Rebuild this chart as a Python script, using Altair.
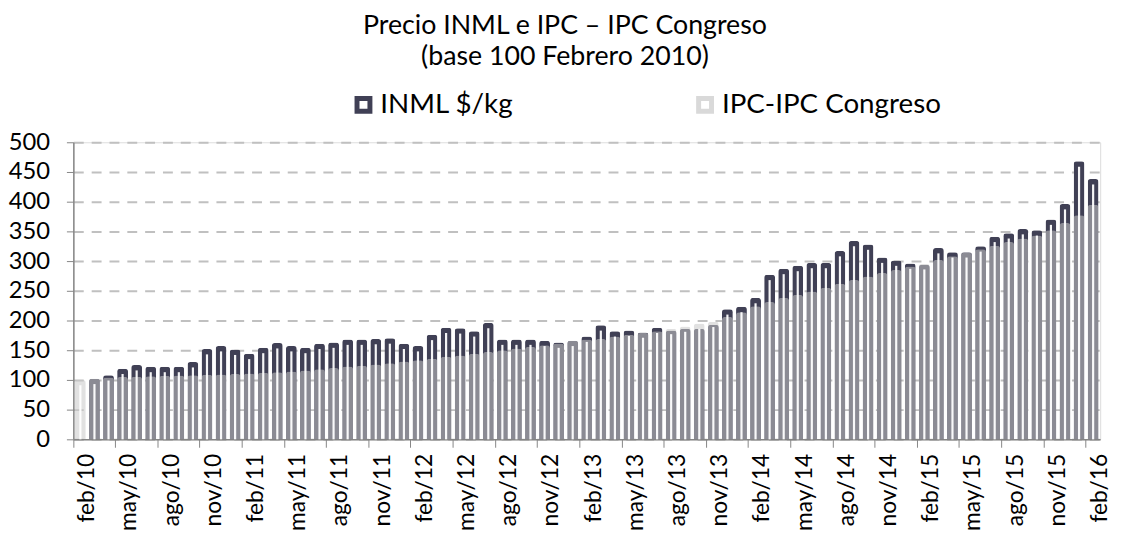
import altair as alt
import pandas as pd

meses = [
    "feb/10", "mar/10", "abr/10", "may/10", "jun/10", "jul/10", "ago/10", "sep/10", "oct/10", "nov/10", "dic/10",
    "ene/11", "feb/11", "mar/11", "abr/11", "may/11", "jun/11", "jul/11", "ago/11", "sep/11", "oct/11", "nov/11", "dic/11",
    "ene/12", "feb/12", "mar/12", "abr/12", "may/12", "jun/12", "jul/12", "ago/12", "sep/12", "oct/12", "nov/12", "dic/12",
    "ene/13", "feb/13", "mar/13", "abr/13", "may/13", "jun/13", "jul/13", "ago/13", "sep/13", "oct/13", "nov/13", "dic/13",
    "ene/14", "feb/14", "mar/14", "abr/14", "may/14", "jun/14", "jul/14", "ago/14", "sep/14", "oct/14", "nov/14", "dic/14",
    "ene/15", "feb/15", "mar/15", "abr/15", "may/15", "jun/15", "jul/15", "ago/15", "sep/15", "oct/15", "nov/15", "dic/15",
    "ene/16", "feb/16",
]

inml = [
    None, 102, 108, 119, 125, 122, 122, 122, 130, 152, 157,
    151, 144, 154, 162, 157, 154, 161, 163, 168, 168, 169, 170,
    161, 157, 176, 188, 187, 182, 196, 168, 168, 168, 166, 163,
    166, 173, 192, 182, 183, 180, 188, 183, 186, 186, 193, 219,
    223, 238, 277, 287, 292, 297, 297, 317, 334, 328, 306, 301,
    296, 294, 322, 315, 315, 325, 341, 347, 354, 352, 370, 396,
    468, 438,
]

ipc = [
    100, 102, 104, 105, 105.5, 106, 107, 107.5, 108, 108.5, 109,
    110, 111, 112, 113, 114, 116, 118, 120, 122.5, 124, 126, 128,
    131, 133, 135.5, 139, 141, 144, 147, 150, 153, 155.5, 158.5, 161.5,
    166, 168, 169, 173, 176, 179, 182, 186, 190, 195, 198, 206,
    214, 224, 231, 238, 243, 249, 255, 262, 268, 274, 280, 285,
    291, 295, 302, 308, 314, 320, 326, 332, 338, 343, 352, 364,
    377, 395,
]

etiquetas = [
    "feb/10", "may/10", "ago/10", "nov/10", "feb/11", "may/11", "ago/11", "nov/11",
    "feb/12", "may/12", "ago/12", "nov/12", "feb/13", "may/13", "ago/13", "nov/13",
    "feb/14", "may/14", "ago/14", "nov/14", "feb/15", "may/15", "ago/15", "nov/15", "feb/16",
]

series = ["INML $/kg", "IPC-IPC Congreso"]
colores = ["#404055", "#c8c8c8"]
colores_leyenda = ["#404055", "#d9d9d9"]
y_ticks = [0, 50, 100, 150, 200, 250, 300, 350, 400, 450, 500]

df_largo = pd.DataFrame({
    "mes": meses + meses,
    "valor": inml + ipc,
    "serie": [series[0]] * len(meses) + [series[1]] * len(meses),
})
df_ancho = pd.DataFrame({"mes": meses, "inml": inml, "ipc": ipc})

FONT = "Lato"

x_enc = alt.X(
    "mes:O",
    sort=meses,
    scale=alt.Scale(paddingInner=0, paddingOuter=0),
    axis=alt.Axis(
        title=None, values=etiquetas, labelAngle=-90, bandPosition=0, labelOffset=7,
        tickSize=8, tickColor="#868686", domainColor="#868686", domainWidth=1.5,
        labelFontSize=23, labelFont=FONT, labelColor="#000000", labelPadding=6, grid=False,
    ),
)


def y_enc(campo):
    return alt.Y(
        campo,
        scale=alt.Scale(domain=[0, 500], nice=False),
        axis=alt.Axis(
            title=None, values=y_ticks, grid=True, gridDash=[10, 8], gridColor="#c0c0c0", gridWidth=2,
            domainColor="#868686", domainWidth=1.5, tickColor="#868686", tickSize=7,
            labelFontSize=24, labelFont=FONT, labelColor="#000000", labelPadding=17,
        ),
    )


stroke_enc = alt.Stroke(
    "serie:N",
    scale=alt.Scale(domain=series, range=colores_leyenda),
    legend=alt.Legend(
        title=None, orient="none", legendX=279, legendY=-52, direction="horizontal",
        labelFontSize=28, labelFont=FONT, labelColor="#000000", labelLimit=400,
        symbolType="square", symbolSize=170, symbolStrokeWidth=5, symbolFillColor="white",
        symbolOpacity=1, columnPadding=176, labelOffset=3,
    ),
)

base = alt.Chart(df_largo)

# capa sin datos visibles: sólo aporta la leyenda (cuadros huecos)
capa_leyenda = base.transform_filter("false").mark_bar(
    width=11, fill="white", strokeWidth=5, opacity=1,
).encode(x=x_enc, y=y_enc("valor:Q"), stroke=stroke_enc)

capa_inml = base.transform_filter(alt.datum.serie == series[0]).mark_bar(
    width=11, fill=colores[0], cornerRadiusTopLeft=3, cornerRadiusTopRight=3,
).encode(x=x_enc, y=y_enc("valor:Q"))

capa_ipc = base.transform_filter(alt.datum.serie == series[1]).mark_bar(
    width=11, fill=colores[1], opacity=0.55, cornerRadiusTopLeft=3, cornerRadiusTopRight=3,
).encode(x=x_enc, y=y_enc("valor:Q"))

capa_centro = alt.Chart(df_ancho).transform_calculate(
    tope="max(datum.ipc, isValid(datum.inml) ? datum.inml : 0) - 9"
).mark_bar(width=2.2, color="white", opacity=0.95).encode(x=x_enc, y=y_enc("tope:Q"))

chart = alt.layer(capa_leyenda, capa_inml, capa_ipc, capa_centro).properties(
    width=1037,
    height=300,
    padding={"left": 0, "top": 2, "right": 5, "bottom": 0},
    title=alt.TitleParams(
        text=["Precio INML e IPC – IPC Congreso", "(base 100 Febrero 2010)"],
        fontSize=27, font=FONT, fontWeight="normal", lineHeight=31,
        anchor="middle", offset=20, dx=-22, color="#000000",
    ),
).configure_view(stroke=None).configure(background="white")

chart.save("out.html", embed_options={"renderer": "svg", "actions": False})
